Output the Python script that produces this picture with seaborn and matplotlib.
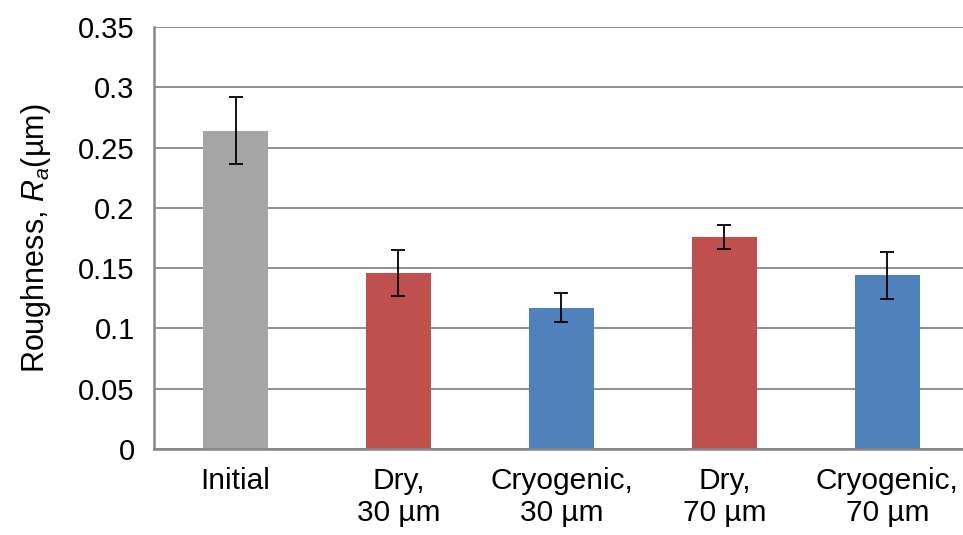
import numpy as np
import pandas as pd
import matplotlib
matplotlib.use("Agg")
import matplotlib.pyplot as plt
import seaborn as sns

# values
categories = ["Initial", "Dry,\n30 µm", "Cryogenic,\n30 µm", "Dry,\n70 µm", "Cryogenic,\n70 µm"]
roughness = [0.264, 0.146, 0.117, 0.176, 0.144]
roughness_err = [0.028, 0.019, 0.012, 0.010, 0.0195]
bar_colors = ["#A5A5A5", "#C0504D", "#4F81BD", "#C0504D", "#4F81BD"]
y_ticks = [0, 0.05, 0.1, 0.15, 0.2, 0.25, 0.3, 0.35]
y_tick_labels = ["0", "0.05", "0.1", "0.15", "0.2", "0.25", "0.3", "0.35"]

sns.set_style("white")
plt.rcParams["font.family"] = ["Liberation Sans", "DejaVu Sans"]
plt.rcParams["mathtext.fontset"] = "custom"
plt.rcParams["mathtext.rm"] = "Liberation Sans"
plt.rcParams["mathtext.it"] = "Liberation Sans:italic"
plt.rcParams["text.color"] = "black"
plt.rcParams["axes.labelcolor"] = "black"
plt.rcParams["xtick.labelcolor"] = "black"
plt.rcParams["ytick.labelcolor"] = "black"

df = pd.DataFrame({"category": categories, "roughness": roughness})

fig = plt.figure(figsize=(9.63, 5.35), dpi=100)
ax = fig.add_axes([0.16, 0.1607, 0.846, 0.7888])

grid_gray = "#878787"
ax.set_axisbelow(True)
ax.yaxis.grid(True, color=grid_gray, linewidth=1.3)

sns.barplot(data=df, x="category", y="roughness", hue="category",
            palette=bar_colors, width=0.4, legend=False, ax=ax,
            saturation=1, errorbar=None, linewidth=0)

ax.errorbar(np.arange(len(categories)), roughness, yerr=roughness_err,
            fmt="none", ecolor="black", elinewidth=1.3, capsize=5,
            capthick=1.3)

ax.set_xlim(-0.5, len(categories) - 0.5)
ax.set_ylim(0, 0.35)
ax.set_yticks(y_ticks)
ax.set_yticklabels(y_tick_labels, fontsize=21)
ax.set_xticks(np.arange(len(categories)))
ax.set_xticklabels(categories, fontsize=21.5, linespacing=1.2)
ax.set_xticks(np.arange(len(categories)) - 0.5, minor=True)

ax.tick_params(axis="x", which="major", length=0, pad=13)
ax.tick_params(axis="x", which="minor", length=6, width=1.5,
               color=grid_gray, direction="out")
ax.tick_params(axis="y", which="major", length=7, width=1.5,
               color=grid_gray, direction="out", pad=7)

for side in ["top", "right"]:
    ax.spines[side].set_visible(False)
for side in ["left", "bottom"]:
    ax.spines[side].set_color(grid_gray)
    ax.spines[side].set_linewidth(1.8)

ax.set_xlabel("")
ax.set_ylabel("Roughness, $R_a$(µm)", fontsize=22, labelpad=18)

fig.savefig("out.png", dpi=100)
